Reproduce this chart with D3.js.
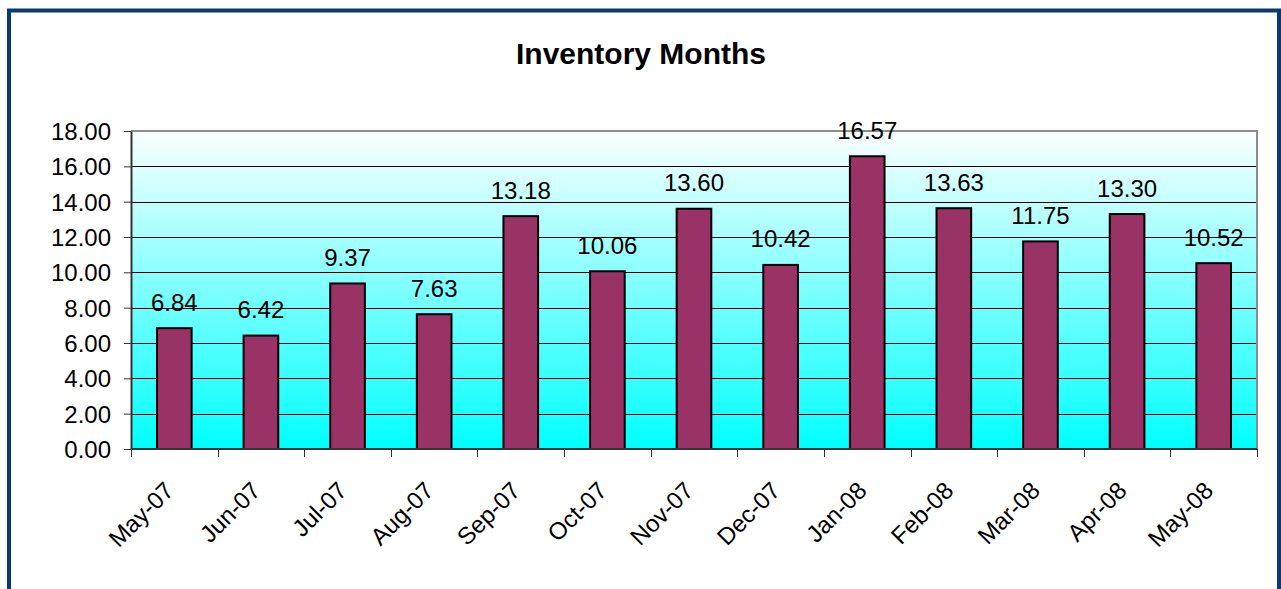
<!DOCTYPE html>
<html>
<head>
<meta charset="utf-8">
<script src="https://cdn.jsdelivr.net/npm/d3@7"></script>
<style>
  html, body { margin: 0; padding: 0; background: #fff; }
  svg { display: block; font-family: Arial, "Liberation Sans", sans-serif; }
</style>
</head>
<body>
<div id="chart"></div>
<script>
'use strict';

// chart data
const months = ['May-07', 'Jun-07', 'Jul-07', 'Aug-07', 'Sep-07', 'Oct-07', 'Nov-07',
    'Dec-07', 'Jan-08', 'Feb-08', 'Mar-08', 'Apr-08', 'May-08'];
const inventoryMonths = [6.84, 6.42, 9.37, 7.63, 13.18, 10.06, 13.60, 10.42, 16.57, 13.63, 11.75, 13.30, 10.52];
const yTicks = [0, 2, 4, 6, 8, 10, 12, 14, 16, 18];
const title = 'Inventory Months';

const W = 1281, H = 589;
const plot = { left: 131, right: 1257, top: 131, bottom: 449 };

const svg = d3.select('#chart').append('svg')
    .attr('width', W)
    .attr('height', H);

// outer frame
svg.append('rect')
    .attr('x', 9).attr('y', 10.5)
    .attr('width', 1270).attr('height', 700)
    .attr('fill', '#fff')
    .attr('stroke', '#0b3a70')
    .attr('stroke-width', 4);

// title
svg.append('text')
    .attr('x', 641).attr('y', 64)
    .attr('text-anchor', 'middle')
    .style('font-size', '30px')
    .style('font-weight', 'bold')
    .text(title);

// scales
const x = d3.scaleBand()
    .domain(months)
    .range([plot.left, plot.right])
    .padding(0);

const y = d3.scaleLinear()
    .domain([0, 18])
    .range([plot.bottom, plot.top]);

// plot area gradient
const grad = svg.append('defs').append('linearGradient')
    .attr('id', 'bg')
    .attr('x1', 0).attr('y1', 0).attr('x2', 0).attr('y2', 1);
grad.append('stop').attr('offset', '0%').attr('stop-color', '#fbffff');
grad.append('stop').attr('offset', '100%').attr('stop-color', '#00ffff');

svg.append('rect')
    .attr('x', plot.left).attr('y', plot.top)
    .attr('width', plot.right - plot.left)
    .attr('height', plot.bottom - plot.top)
    .attr('fill', 'url(#bg)');

// gridlines
svg.append('g')
    .selectAll('line')
    .data(yTicks.filter(d => d > 0 && d < 18))
    .join('line')
    .attr('x1', plot.left).attr('x2', plot.right)
    .attr('y1', d => Math.round(y(d)) + 0.5)
    .attr('y2', d => Math.round(y(d)) + 0.5)
    .attr('stroke', '#000')
    .attr('stroke-width', 1);

// top and right border of plot area
svg.append('path')
    .attr('d', `M${plot.left},${plot.top}H${plot.right}V${plot.bottom}`)
    .attr('fill', 'none')
    .attr('stroke', '#8c8c8c')
    .attr('stroke-width', 2);

// bars
const barW = x.bandwidth() * 0.4;
svg.append('g')
    .selectAll('rect')
    .data(inventoryMonths)
    .join('rect')
    .attr('x', (d, i) => x(months[i]) + (x.bandwidth() - barW) / 2)
    .attr('y', d => y(d))
    .attr('width', barW)
    .attr('height', d => y(0) - y(d))
    .attr('fill', '#993366')
    .attr('stroke', '#000')
    .attr('stroke-width', 2);

// data labels
svg.append('g')
    .selectAll('text')
    .data(inventoryMonths)
    .join('text')
    .attr('x', (d, i) => x(months[i]) + x.bandwidth() / 2)
    .attr('y', d => y(d) - 17.5)
    .attr('text-anchor', 'middle')
    .style('font-size', '24px')
    .text(d => d.toFixed(2));

// y axis
const yAxis = svg.append('g')
    .attr('transform', `translate(${plot.left},0)`)
    .call(d3.axisLeft(y).tickValues(yTicks).tickSize(7).tickSizeOuter(0)
        .tickFormat(d3.format('.2f')));
yAxis.select('.domain').attr('stroke', '#333').attr('stroke-width', 2);
yAxis.selectAll('.tick line').attr('stroke', '#333');
yAxis.selectAll('.tick text')
    .attr('x', -20)
    .attr('dy', '0.36em')
    .attr('fill', '#000')
    .style('font-size', '24px')
    .style('font-family', 'Arial, "Liberation Sans", sans-serif');

// x axis: ticks on category boundaries
const xAxis = svg.append('g')
    .attr('transform', `translate(0,${plot.bottom})`);
xAxis.append('line')
    .attr('x1', plot.left).attr('x2', plot.right)
    .attr('stroke', '#333').attr('stroke-width', 2);
xAxis.selectAll('line.tick')
    .data(months.concat(['end']))
    .join('line')
    .attr('class', 'tick')
    .attr('x1', (d, i) => Math.round(plot.left + i * x.step()) + 0.5)
    .attr('x2', (d, i) => Math.round(plot.left + i * x.step()) + 0.5)
    .attr('y1', 0).attr('y2', 8)
    .attr('stroke', '#333');
xAxis.selectAll('text')
    .data(months)
    .join('text')
    .attr('transform', d => `translate(${x(d) + x.bandwidth() / 2 + 1},${43}) rotate(-45)`)
    .attr('text-anchor', 'end')
    .style('font-size', '24px')
    .text(d => d);
</script>
</body>
</html>
